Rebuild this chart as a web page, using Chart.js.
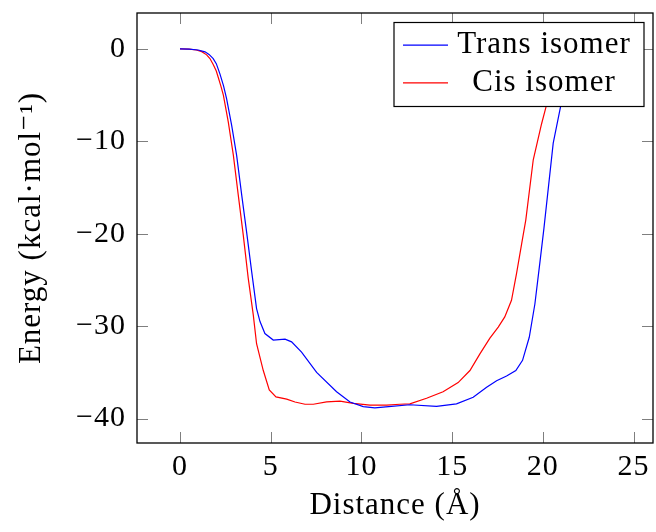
<!DOCTYPE html>
<html>
<head>
<meta charset="utf-8">
<script src="https://cdn.jsdelivr.net/npm/chart.js@4"></script>
<style>
  html, body { margin: 0; padding: 0; background: #fff; }
  #wrap { width: 656px; height: 532px; }
</style>
</head>
<body>
<div id="wrap"><canvas id="chart" width="656" height="532"></canvas></div>
<script>
// Trans isomer (blue)
const transX = [0, 0.5, 1.0, 1.38, 1.6, 1.83, 2.0, 2.2, 2.4, 2.57, 2.85, 3.12, 3.4, 3.67, 3.95, 4.22, 4.41, 4.68, 5.14, 5.79, 6.15, 6.7, 7.53, 8.63, 9.37, 10.1, 10.74, 11.5, 12.67, 14.14, 15.24, 16.16, 16.9, 17.45, 18.0, 18.51, 18.88, 19.25, 19.56, 19.83, 20.06, 20.57, 20.97, 21.5, 22.2, 23.0, 23.7];
const transY = [0, -0.02, -0.12, -0.32, -0.6, -1.05, -1.6, -2.7, -4.0, -5.4, -8.3, -11.5, -15.8, -19.8, -24.1, -28.1, -29.5, -30.8, -31.5, -31.4, -31.7, -32.8, -35.0, -37.1, -38.2, -38.7, -38.85, -38.7, -38.5, -38.67, -38.4, -37.7, -36.6, -35.9, -35.4, -34.8, -33.7, -31.2, -27.6, -23.2, -19.4, -10.2, -6.3, -3.0, -1.0, -0.2, 0];

// Cis isomer (red)
const cisX = [0, 0.5, 0.9, 1.2, 1.47, 1.65, 1.83, 2.0, 2.11, 2.25, 2.39, 2.66, 2.94, 3.21, 3.49, 3.76, 4.04, 4.22, 4.59, 4.92, 5.29, 5.88, 6.34, 6.89, 7.35, 8.08, 8.82, 9.55, 10.47, 11.39, 12.12, 12.67, 13.59, 14.5, 15.33, 15.98, 16.53, 17.08, 17.54, 17.9, 18.27, 18.55, 18.83, 19.06, 19.47, 19.93, 20.17, 20.6, 21.2, 22.0, 23.7];
const cisY = [0, -0.03, -0.12, -0.3, -0.65, -1.05, -1.7, -2.4, -3.1, -4.0, -5.0, -7.9, -11.5, -15.8, -20.2, -24.8, -28.8, -31.9, -34.8, -36.9, -37.65, -37.9, -38.2, -38.45, -38.45, -38.2, -38.1, -38.35, -38.55, -38.55, -38.45, -38.4, -37.8, -37.1, -36.1, -34.8, -33.0, -31.3, -30.1, -29.0, -27.2, -24.3, -21.1, -18.5, -12.0, -8.1, -6.3, -3.0, -1.0, -0.2, 0];

const xTicks = [0, 5, 10, 15, 20, 25];
const yTicks = [0, -10, -20, -30, -40];

const SERIF = "'Liberation Serif', 'DejaVu Serif', serif";

const toPoints = (xs, ys) => xs.map((x, i) => ({ x, y: ys[i] }));
const fmt = (v) => (v < 0 ? "\u2212" + Math.abs(v) : String(v));

// Computer Modern is wider than Times, spread the letters a bit
const spacing = {
  id: "spacing",
  beforeDraw(chart) { chart.ctx.letterSpacing = "1px"; },
};

// frame + inward ticks on all four sides (pgfplots look)
const framePlugin = {
  id: "frame",
  afterDatasetsDraw(chart) {
    const { ctx, chartArea: a, scales } = chart;
    const len = 11;
    ctx.save();
    ctx.strokeStyle = "rgba(0,0,0,0.5)";
    ctx.lineWidth = 1;
    ctx.beginPath();
    xTicks.forEach((v) => {
      const px = Math.round(scales.x.getPixelForValue(v)) + 0.5;
      ctx.moveTo(px, a.bottom); ctx.lineTo(px, a.bottom - len);
      ctx.moveTo(px, a.top); ctx.lineTo(px, a.top + len);
    });
    yTicks.forEach((v) => {
      const py = Math.round(scales.y.getPixelForValue(v)) + 0.5;
      ctx.moveTo(a.left, py); ctx.lineTo(a.left + len, py);
      ctx.moveTo(a.right, py); ctx.lineTo(a.right - len, py);
    });
    ctx.stroke();
    ctx.strokeStyle = "#000";
    ctx.lineWidth = 1.3;
    ctx.strokeRect(a.left, a.top, a.right - a.left, a.bottom - a.top);
    ctx.restore();
  },
};

// boxed legend drawn inside the plot, on top of the lines
const boxLegend = {
  id: "boxLegend",
  afterDraw(chart) {
    const { ctx, chartArea: a } = chart;
    const w = 250, h = 84;
    const bx = a.right - 9 - w, by = a.top + 9.5;
    ctx.save();
    ctx.fillStyle = "#fff";
    ctx.fillRect(bx, by, w, h);
    ctx.strokeStyle = "#000";
    ctx.lineWidth = 1.2;
    ctx.strokeRect(bx, by, w, h);
    const rows = [22.7, 60.4];
    chart.data.datasets.forEach((ds, i) => {
      const ry = by + rows[i];
      ctx.strokeStyle = ds.borderColor;
      ctx.lineWidth = 1.2;
      ctx.beginPath();
      ctx.moveTo(bx + 9, ry);
      ctx.lineTo(bx + 54, ry);
      ctx.stroke();
      ctx.fillStyle = "#000";
      ctx.font = "31px " + SERIF;
      ctx.textAlign = "center";
      ctx.textBaseline = "middle";
      ctx.fillText(ds.label, bx + 150, ry);
    });
    ctx.restore();
  },
};

new Chart(document.getElementById("chart"), {
  type: "line",
  data: {
    datasets: [
      {
        label: "Trans isomer",
        data: toPoints(transX, transY),
        borderColor: "#0000ff",
        borderWidth: 1.2,
        pointRadius: 0,
        tension: 0,
        fill: false,
      },
      {
        label: "Cis isomer",
        data: toPoints(cisX, cisY),
        borderColor: "#ff0000",
        borderWidth: 1.2,
        pointRadius: 0,
        tension: 0,
        fill: false,
      },
    ],
  },
  options: {
    responsive: false,
    animation: false,
    layout: { padding: { top: 13, right: 3, left: 0, bottom: 0 } },
    plugins: {
      legend: { display: false },
      tooltip: { enabled: false },
    },
    scales: {
      x: {
        type: "linear",
        min: -2.37,
        max: 26.07,
        afterBuildTicks: (s) => { s.ticks = xTicks.map((v) => ({ value: v })); },
        afterFit: (s) => { s.height = 89; s.paddingLeft = 0; s.paddingRight = 0; },
        grid: { display: false, drawTicks: false },
        border: { display: false },
        ticks: {
          color: "#000",
          padding: 6,
          maxRotation: 0,
          font: { family: SERIF, size: 30 },
          callback: (v) => fmt(v),
        },
        title: {
          display: true,
          text: "Distance (\u00c5)",
          color: "#000",
          font: { family: SERIF, size: 31 },
          padding: { top: 0, bottom: 8 },
        },
      },
      y: {
        type: "linear",
        min: -42.64,
        max: 3.88,
        afterBuildTicks: (s) => { s.ticks = yTicks.map((v) => ({ value: v })); },
        afterFit: (s) => { s.width = 137; s.paddingTop = 0; s.paddingBottom = 0; },
        grid: { display: false, drawTicks: false },
        border: { display: false },
        ticks: {
          color: "#000",
          padding: 11,
          font: { family: SERIF, size: 30 },
          callback: (v) => fmt(v),
        },
        title: {
          display: true,
          text: "Energy (kcal\u00b7mol\u207b\u00b9)",
          color: "#000",
          font: { family: SERIF, size: 31 },
          padding: { top: 13, bottom: 0 },
        },
      },
    },
  },
  plugins: [spacing, framePlugin, boxLegend],
});
</script>
</body>
</html>
